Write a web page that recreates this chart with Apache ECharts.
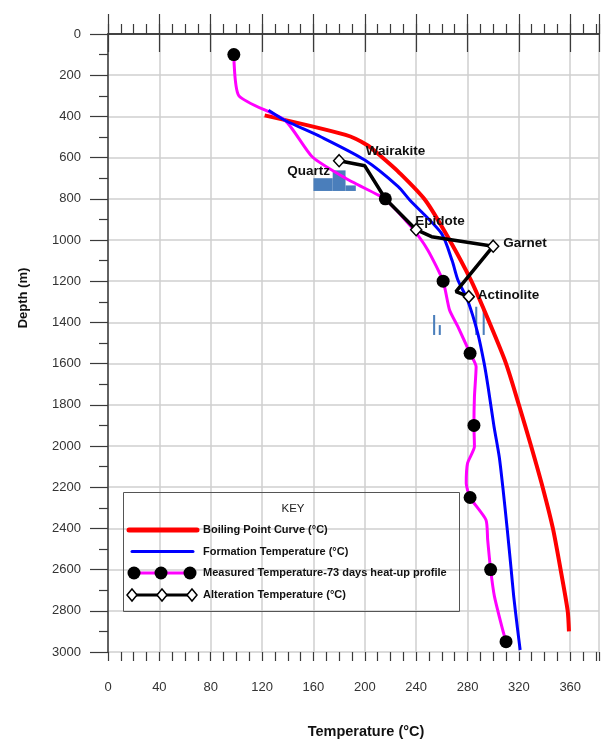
<!DOCTYPE html>
<html>
<head>
<meta charset="utf-8">
<script src="https://cdn.jsdelivr.net/npm/echarts@6/dist/echarts.min.js"></script>
<style>
  html, body { margin: 0; padding: 0; background: #fff; }
  #chart { width: 602px; height: 742px; }
</style>
</head>
<body>
<div id="chart"></div>
<script>
// Boiling point with depth (°C)
const boilingDepth = [395, 490, 540, 596, 668, 806, 1000, 1200, 1400, 1600, 1800, 2000, 2200, 2400, 2600, 2800, 2900];
const boilingTemp  = [122, 185, 202, 213, 226, 247, 266, 283, 297, 310, 320, 329.5, 338.5, 346.5, 352.5, 358, 359];

// Interpreted formation temperature (°C)
const formationDepth = [370, 420, 500, 612, 741, 806, 967, 1100, 1194, 1291, 1453, 1600, 1712, 1900, 2052, 2200, 2408, 2600, 2731, 2890, 2990];
const formationTemp  = [125, 138, 166, 200, 226, 235, 259.6, 268, 272.5, 280, 288, 293, 296, 300.5, 304.7, 307.5, 311, 314, 316, 319, 321];

// Measured temperature, 73 days heat-up profile (°C)
const measuredDepth = [100, 300, 420, 596, 700, 782, 800, 935, 1048, 1200, 1340, 1421, 1550, 1615, 1760, 1900, 2003, 2084, 2181, 2250, 2359, 2456, 2600, 2731, 2893, 2950];
const measuredTemp  = [98, 102, 138, 159, 185, 210.6, 216, 236, 249, 261, 266, 272.5, 282, 286.7, 285.4, 285, 285.4, 280, 279, 282, 294.4, 295.7, 298, 301, 307.4, 310];
const measuredDotDepth = [100, 800, 1200, 1550, 1900, 2250, 2600, 2950];
const measuredDotTemp  = [98, 216, 261, 282, 285, 282, 298, 310];

// Alteration mineral temperatures (°C)
const alterationDepth = [615, 640, 800, 950, 984, 1030, 1251, 1275];
const alterationTemp  = [180, 200, 216, 240, 252, 300, 271, 281];
const alterationName  = ['Quartz', 'Wairakite', '', 'Epidote', '', 'Garnet', '', 'Actinolite'];

// Fluid inclusion histograms: [T start, T end, top depth, base depth]
const quartzBinStart = [160, 175, 185];
const quartzBinEnd   = [175, 185, 193];
const quartzBinTop   = [700, 662, 735];
const quartzBinBase  = [762, 762, 762];

const actinoliteBinStart = [253.2, 257.6, 286.0, 291.8];
const actinoliteBinEnd   = [254.8, 259.2, 287.6, 293.4];
const actinoliteBinTop   = [1364, 1413, 1324, 1324];
const actinoliteBinBase  = [1461, 1461, 1461, 1461];

// Tick labels
const tempTicks  = [0, 40, 80, 120, 160, 200, 240, 280, 320, 360];
const depthTicks = [0, 200, 400, 600, 800, 1000, 1200, 1400, 1600, 1800, 2000, 2200, 2400, 2600, 2800, 3000];

const FONT = "'Liberation Sans', Arial, Helvetica, sans-serif";
const TEMP_MAX = 382.4;
const zip = (t, d) => t.map((v, i) => [v, d[i]]);
const bins = (s, e, t, b) => s.map((v, i) => [v, e[i], t[i], b[i]]);

const chart = echarts.init(document.getElementById('chart'), null, { renderer: 'canvas' });

const axisLine = { show: true, lineStyle: { color: '#3a3a3a', width: 1.5 } };
const tickStyle = { color: '#3a3a3a', width: 1.2 };

// Label offsets for the mineral names, relative to each point
const labelPlacement = {
  Quartz:     { align: 'right', offset: [-9, 11] },
  Wairakite:  { align: 'left',  offset: [1, -15] },
  Epidote:    { align: 'left',  offset: [-1, -8] },
  Garnet:     { align: 'left',  offset: [10, -3] },
  Actinolite: { align: 'left',  offset: [9, -1] }
};

const mineralPoints = alterationTemp.map((t, i) => {
  const name = alterationName[i];
  const visible = name !== '' && name !== 'Wairakite';
  const item = { value: [t, alterationDepth[i]], symbolSize: visible ? [11, 12] : 0 };
  if (name) {
    item.label = {
      show: true, position: 'inside', formatter: name,
      align: labelPlacement[name].align, verticalAlign: 'middle',
      offset: labelPlacement[name].offset,
      fontFamily: FONT, fontWeight: 'bold', fontSize: 13.5, color: '#111'
    };
  }
  return item;
});

function binRenderer(color) {
  return function (params, api) {
    const p0 = api.coord([api.value(0), api.value(2)]);
    const p1 = api.coord([api.value(1), api.value(3)]);
    return {
      type: 'rect',
      shape: { x: p0[0], y: p0[1], width: p1[0] - p0[0], height: p1[1] - p0[1] },
      style: { fill: color }
    };
  };
}

// Legend ("KEY") and axis titles drawn as graphic elements
const legendText = (x, y, text) => ({
  type: 'text', x: x, y: y, z: 100,
  style: { text: text, fontFamily: FONT, fontWeight: 'bold', fontSize: 11, fill: '#111', verticalAlign: 'middle' }
});
const diamond = (cx, cy) => ({
  type: 'polygon', z: 101,
  shape: { points: [[cx, cy - 6], [cx + 5, cy], [cx, cy + 6], [cx - 5, cy]] },
  style: { fill: '#fff', stroke: '#000', lineWidth: 1.5 }
});
const dot = (cx, cy) => ({ type: 'circle', z: 101, shape: { cx: cx, cy: cy, r: 6.5 }, style: { fill: '#000' } });
const seg = (x1, y1, x2, y2, color, w, cap) => ({
  type: 'line', z: 100, shape: { x1: x1, y1: y1, x2: x2, y2: y2 },
  style: { stroke: color, lineWidth: w, lineCap: cap || 'butt' }
});

const legendGraphics = [
  { type: 'rect', z: 99, shape: { x: 123.5, y: 492.5, width: 336, height: 119 }, style: { fill: 'transparent', stroke: '#555', lineWidth: 1 } },
  { type: 'text', z: 100, x: 293, y: 509, style: { text: 'KEY', fontFamily: FONT, fontSize: 11.5, fill: '#222', align: 'center', verticalAlign: 'middle' } },
  seg(129, 530, 197, 530, '#ff0000', 5, 'round'),
  legendText(203, 530, 'Boiling Point Curve (°C)'),
  seg(132, 551.5, 193, 551.5, '#0000ff', 3, 'round'),
  legendText(203, 551.5, 'Formation Temperature (°C)'),
  seg(134, 573, 190, 573, '#ff00ff', 3),
  dot(134, 573), dot(161, 573), dot(190, 573),
  legendText(203, 573, 'Measured Temperature-73 days heat-up profile'),
  seg(132, 595, 192, 595, '#000', 3),
  diamond(132, 595), diamond(162, 595), diamond(192, 595),
  legendText(203, 595, 'Alteration Temperature (°C)'),
  { type: 'text', z: 100, x: 366, y: 732, style: { text: 'Temperature (°C)', fontFamily: FONT, fontWeight: 'bold', fontSize: 14.5, fill: '#111', align: 'center', verticalAlign: 'middle' } },
  { type: 'text', z: 100, x: 23, y: 298, rotation: Math.PI / 2, style: { text: 'Depth (m)', fontFamily: FONT, fontWeight: 'bold', fontSize: 13, fill: '#111', align: 'center', verticalAlign: 'middle' } }
];

// Temperature axes: major ticks every 40 °C, minor ticks every 10 °C, on bottom and top
const tempAxis = (position, interval, tickLen, extra) => Object.assign({
  type: 'value', position: position, min: 0, max: TEMP_MAX, interval: interval,
  axisLine: { show: false },
  axisTick: { show: true, length: tickLen, lineStyle: tickStyle },
  axisLabel: { show: false },
  splitLine: { show: false }
}, extra || {});

const option = {
  animation: false,
  backgroundColor: '#fff',
  grid: { left: 108, top: 34, right: 0, height: 618, containLabel: false },
  xAxis: [
    tempAxis('bottom', 40, 18, {
      axisLine: axisLine,
      axisLabel: {
        show: true, margin: 29, fontFamily: FONT, fontSize: 13, color: '#333',
        formatter: v => (tempTicks.indexOf(v) >= 0 ? String(v) : '')
      },
      splitLine: { show: true, lineStyle: { color: '#cfcfcf', width: 1.5 } }
    }),
    tempAxis('bottom', 10, 9),
    tempAxis('top', 40, 20, { axisLine: axisLine }),
    tempAxis('top', 10, 10)
  ],
  yAxis: {
    type: 'value', inverse: true, min: 0, max: 3000, interval: 200,
    axisLine: axisLine,
    axisTick: { show: true, length: 18, lineStyle: tickStyle },
    minorTick: { show: true, splitNumber: 2, length: 9, lineStyle: tickStyle },
    axisLabel: {
      margin: 27, fontFamily: FONT, fontSize: 13, color: '#333',
      formatter: v => (depthTicks.indexOf(v) >= 0 ? String(v) : '')
    },
    splitLine: { show: true, lineStyle: { color: '#cfcfcf', width: 1.5 } }
  },
  graphic: legendGraphics,
  series: [
    {
      name: 'Quartz inclusions', type: 'custom', renderItem: binRenderer('#4a7ebb'),
      data: bins(quartzBinStart, quartzBinEnd, quartzBinTop, quartzBinBase), z: 2
    },
    {
      name: 'Actinolite inclusions', type: 'custom', renderItem: binRenderer('#4a7ebb'),
      data: bins(actinoliteBinStart, actinoliteBinEnd, actinoliteBinTop, actinoliteBinBase), z: 2
    },
    {
      name: 'Boiling Point Curve (°C)', type: 'line', data: zip(boilingTemp, boilingDepth),
      showSymbol: false, smooth: 0.25, lineStyle: { color: '#ff0000', width: 4 }, z: 3
    },
    {
      name: 'Formation Temperature (°C)', type: 'line', data: zip(formationTemp, formationDepth),
      showSymbol: false, smooth: 0.25, lineStyle: { color: '#0000ff', width: 3 }, z: 4
    },
    {
      name: 'Measured Temperature-73 days heat-up profile', type: 'line', data: zip(measuredTemp, measuredDepth),
      showSymbol: false, smooth: 0.2, lineStyle: { color: '#ff00ff', width: 3 }, z: 3
    },
    {
      name: 'Alteration Temperature (°C)', type: 'line', data: zip(alterationTemp, alterationDepth),
      showSymbol: false, lineStyle: { color: '#000', width: 3.5 }, z: 5
    },
    {
      name: 'Alteration minerals', type: 'scatter', data: mineralPoints, symbol: 'diamond',
      itemStyle: { color: '#fff', borderColor: '#000', borderWidth: 1.5, opacity: 1 }, z: 6
    },
    {
      name: 'Measured points', type: 'scatter', data: zip(measuredDotTemp, measuredDotDepth),
      symbol: 'circle', symbolSize: 13, itemStyle: { color: '#000', opacity: 1 }, z: 7
    }
  ]
};

chart.setOption(option);
</script>
</body>
</html>
